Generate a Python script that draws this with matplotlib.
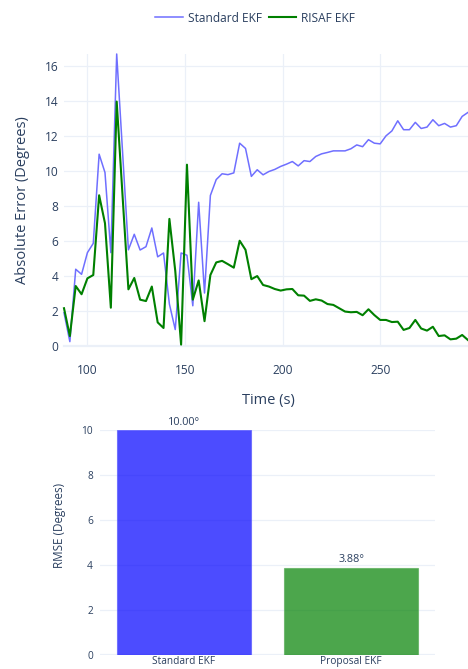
import numpy as np
import matplotlib
matplotlib.use("Agg")
import matplotlib.pyplot as plt

# %% data
time_s = [88, 91, 94, 97, 100, 103, 106, 109, 112, 115,
          118, 121, 124, 127, 130, 133, 136, 139, 142, 145,
          148, 151, 154, 157, 160, 163, 166, 169, 172, 175,
          178, 181, 184, 187, 190, 193, 196, 199, 202, 205,
          208, 211, 214, 217, 220, 223, 226, 229, 232, 235,
          238, 241, 244, 247, 250, 253, 256, 259, 262, 265,
          268, 271, 274, 277, 280, 283, 286, 289, 292, 295]

standardErr = [1.9, 0.25, 4.39, 4.1, 5.34, 5.87, 10.97, 9.92, 5.34, 16.7,
               11.1, 5.5, 6.39, 5.49, 5.68, 6.75, 5.1, 5.32, 2.4, 0.94,
               5.32, 5.19, 2.3, 8.22, 3.03, 8.61, 9.52, 9.85, 9.8, 9.9,
               11.6, 11.3, 9.7, 10.08, 9.79, 9.98, 10.1, 10.27, 10.4, 10.55,
               10.3, 10.6, 10.55, 10.84, 10.99, 11.07, 11.16, 11.16, 11.16, 11.28,
               11.5, 11.4, 11.8, 11.6, 11.56, 12.02, 12.3, 12.88, 12.37, 12.37,
               12.79, 12.44, 12.52, 12.94, 12.6, 12.73, 12.52, 12.6, 13.13, 13.36]

risafErr = [2.16, 0.57, 3.43, 2.96, 3.87, 4.06, 8.62, 7.02, 2.19, 13.98,
            8.6, 3.24, 3.89, 2.65, 2.57, 3.4, 1.35, 1.03, 7.27, 4.3,
            0.08, 10.37, 2.65, 3.75, 1.42, 4.06, 4.78, 4.87, 4.68, 4.48,
            6.02, 5.5, 3.82, 4.0, 3.49, 3.4, 3.26, 3.17, 3.24, 3.26,
            2.9, 2.88, 2.58, 2.67, 2.6, 2.4, 2.35, 2.16, 1.97, 1.93,
            1.95, 1.76, 2.1, 1.77, 1.49, 1.49, 1.37, 1.39, 0.92, 1.03,
            1.49, 1.0, 0.88, 1.1, 0.57, 0.61, 0.38, 0.42, 0.63, 0.34]

barNames = ["Standard EKF", "Proposal EKF"]
rmseValues = [10.00, 3.88]

# %% style
plt.rcParams['font.family'] = ['Open Sans', 'DejaVu Sans']
textColor = '#2a3f5f'
gridColor = '#EBF0F8'

fig = plt.figure(figsize=(4.68, 6.69), dpi=100)

# %% line chart
ax = fig.add_axes([64/468, 1-346/669, 404/468, 292/669])
ax.plot(time_s, standardErr, color='#6f6fff', lw=1.1, label='Standard EKF', zorder=3)
ax.plot(time_s, risafErr, color='#008000', lw=1.5, label='RISAF EKF', zorder=4)
ax.set_xlim(88, 295)
ax.set_ylim(0, 16.7)
ax.set_xticks([100, 150, 200, 250])
ax.set_yticks(np.arange(0, 17, 2))
ax.grid(True, color=gridColor, lw=0.9)
ax.axhline(0, color=gridColor, lw=1.6, zorder=1)
ax.set_axisbelow(True)
for s in ax.spines.values():
    s.set_visible(False)
ax.tick_params(length=0, labelsize=8.6, labelcolor=textColor)
ax.tick_params(axis='x', pad=13)
ax.tick_params(axis='y', pad=4)
for l in ax.get_lines():
    l.set_clip_on(False)
ax.set_xlabel('Time (s)', fontsize=10.5, color=textColor)
ax.xaxis.set_label_coords(0.505, -0.162)
ax.set_ylabel('Absolute Error (Degrees)', fontsize=10.5, color=textColor)
ax.yaxis.set_label_coords(-0.084, 0.5)

fig.legend(loc='center', bbox_to_anchor=(0.545, 1-18/669), ncol=2, frameon=False,
           fontsize=8.6, handlelength=2.3, handletextpad=0.4, columnspacing=0.6,
           labelcolor=textColor)

# %% bar chart
bx = fig.add_axes([100/468, 1-655/669, 335/468, 225/669])
bars = bx.bar(barNames, rmseValues, width=0.8, color=['blue', 'green'], alpha=0.7,
              edgecolor=['#5b5bff', '#5aae5a'], lw=0.8, zorder=3)
for b, v in zip(bars, rmseValues):
    bx.text(b.get_x() + b.get_width()/2, v + 0.1, f'{v:.2f}°', ha='center', va='bottom',
            fontsize=7.8, color=textColor)
bx.set_xlim(-0.5, 1.5)
bx.set_ylim(0, 10)
bx.set_yticks([0, 2, 4, 6, 8, 10])
bx.grid(True, axis='y', color=gridColor, lw=0.9)
bx.axhline(0, color=gridColor, lw=1.6, zorder=1)
bx.set_axisbelow(True)
for s in bx.spines.values():
    s.set_visible(False)
bx.tick_params(length=0, labelsize=7.3, labelcolor=textColor)
bx.tick_params(axis='x', pad=1)
bx.tick_params(axis='y', pad=5)
bx.set_ylabel('RMSE (Degrees)', fontsize=8.4, color=textColor)
bx.yaxis.set_label_coords(-0.101, 0.574)

fig.savefig('out.png', dpi=100)
